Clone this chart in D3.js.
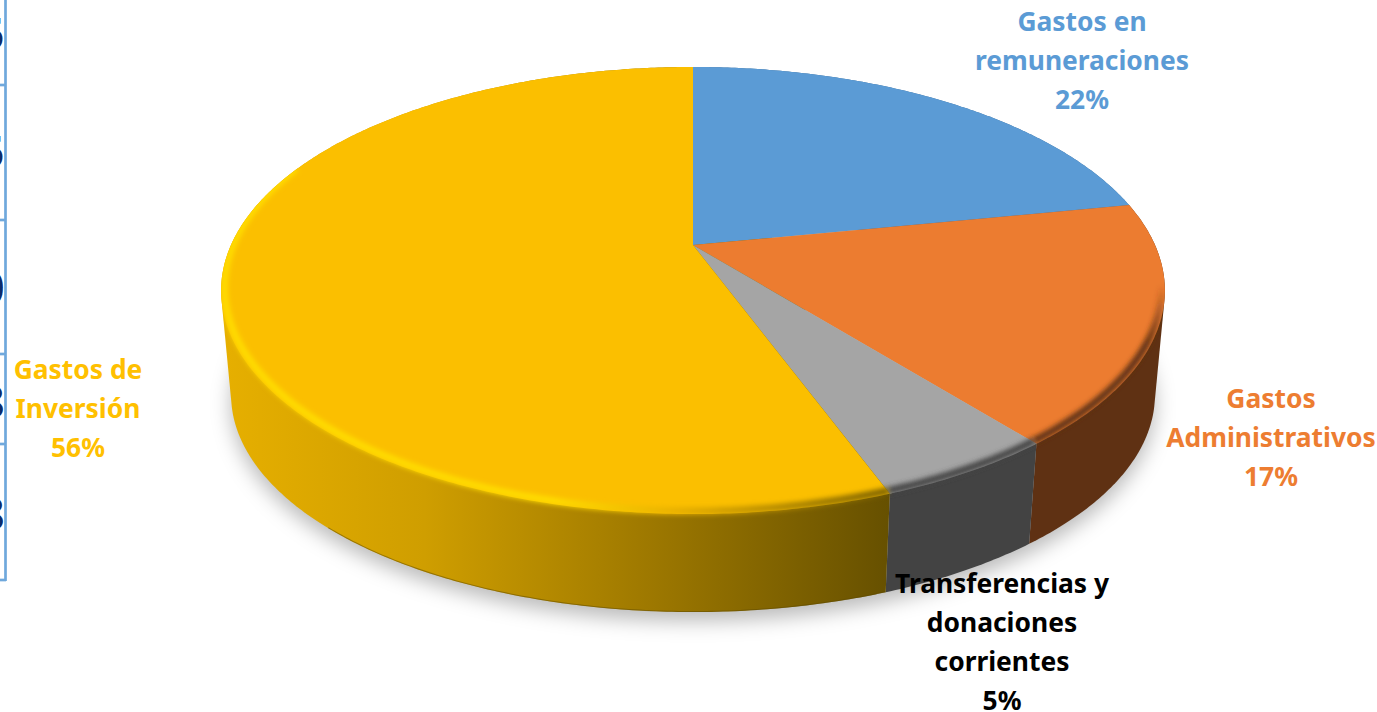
<!DOCTYPE html>
<html>
<head>
<meta charset="utf-8">
<script src="https://cdn.jsdelivr.net/npm/d3@7"></script>
<style>
html,body{margin:0;padding:0;background:#fff;overflow:hidden;}
svg{display:block;}
text{font-family:"Noto Sans",sans-serif;font-weight:700;}
</style>
</head>
<body>
<div id="grafico"></div>
<script>
// datos
var categorias=[["Gastos en","remuneraciones"],["Gastos","Administrativos"],["Transferencias y","donaciones","corrientes"],["Gastos de","Inversión"]];
var valores=[21.9,17.35,5.15,55.6];
var porcentajes=["22%","17%","5%","56%"];
var colores=["#5b9bd5","#ec7c30","#a5a5a5","#fbbf00"];
var coloresLado=["#3a6a96","#5f3113","#434343","url(#ladoAmarillo)"];
var posEtiquetas=[[1082,31],[1271,408],[1002,593],[78,379]];
var colorEtiqueta=["#5b9bd5","#ed7d31","#000000","#ffc000"];
var marcasEje=[85,220,354,444,580];
var digitosCortados=[["5",50],["5",168],["0",304],["8",418],["8",530]];

var ancho=1377, alto=712;

// perspectiva del disco superior
var cx=693, cy=245, k=0.2036, b=-164.4, c=462;
function proyectar(t){
    var v=Math.cos(t), w=1+k*v;
    return [cx+c*Math.sin(t)/w, (cy+b*v)/w];
}
// disco inferior
var escalaX=d3.scaleLinear().domain([cx-472,cx+472]).range([cx-462,cx+462]);
var escalaY=d3.scaleLinear().domain([67,514]).range([178,612]);
function proyectarAbajo(t){
    var p=proyectar(t);
    return [escalaX(p[0]),escalaY(p[1])];
}
function muestras(a0,a1){
    var n=Math.max(2,Math.ceil((a1-a0)/0.01));
    return d3.range(n+1).map(function(i){return a0+(a1-a0)*i/n;});
}
var linea=d3.line();

var arcos=d3.pie().sort(null).startAngle(0).endAngle(2*Math.PI)(valores);
var vuelta=muestras(0,2*Math.PI);
var contorno=d3.polygonHull(vuelta.map(proyectar).concat(vuelta.map(proyectarAbajo)));

var svg=d3.select("#grafico").append("svg")
    .attr("width",ancho)
    .attr("height",alto);
var defs=svg.append("defs");

defs.append("filter").attr("id","sombra")
    .attr("x","-10%").attr("y","-10%").attr("width","120%").attr("height","120%")
    .append("feGaussianBlur").attr("stdDeviation",10);
defs.append("filter").attr("id","suave")
    .attr("filterUnits","userSpaceOnUse")
    .attr("x",0).attr("y",0).attr("width",ancho).attr("height",alto)
    .append("feGaussianBlur").attr("stdDeviation",2.6);

var g1=defs.append("linearGradient").attr("id","ladoAmarillo")
    .attr("gradientUnits","userSpaceOnUse")
    .attr("x1",225).attr("x2",890).attr("y1",0).attr("y2",0);
g1.append("stop").attr("offset",0).attr("stop-color","#e6af00");
g1.append("stop").attr("offset",0.3).attr("stop-color","#cf9e00");
g1.append("stop").attr("offset",0.65).attr("stop-color","#9c7700");
g1.append("stop").attr("offset",1).attr("stop-color","#665000");

var g2=defs.append("linearGradient").attr("id","biselAmarillo")
    .attr("gradientUnits","userSpaceOnUse")
    .attr("x1",220).attr("x2",890).attr("y1",0).attr("y2",0);
g2.append("stop").attr("offset",0).attr("stop-color","#ffdc00");
g2.append("stop").attr("offset",0.5).attr("stop-color","#ffdc00");
g2.append("stop").attr("offset",0.68).attr("stop-color","#e8b000");
g2.append("stop").attr("offset",1).attr("stop-color","#7a6000");

var g3=defs.append("linearGradient").attr("id","biselNaranja")
    .attr("gradientUnits","userSpaceOnUse")
    .attr("x1",0).attr("x2",0).attr("y1",285).attr("y2",345);
g3.append("stop").attr("offset",0).attr("stop-color","#5f3113").attr("stop-opacity",0);
g3.append("stop").attr("offset",1).attr("stop-color","#5f3113").attr("stop-opacity",1);

var biseles=[null,"url(#biselNaranja)","#434343","url(#biselAmarillo)"];

// sombra
svg.append("path")
    .attr("d",linea(vuelta.map(proyectarAbajo))+"Z")
    .attr("transform","translate(0,9)")
    .attr("fill","#000")
    .attr("fill-opacity",0.27)
    .attr("filter","url(#sombra)");

// lados
svg.selectAll("path.lado")
    .data(arcos)
    .enter()
    .append("path")
    .attr("class","lado")
    .attr("d",function(d){
        var t=muestras(d.startAngle,d.endAngle);
        return linea(d3.polygonHull(t.map(proyectar).concat(t.map(proyectarAbajo))))+"Z";
    })
    .attr("fill",function(d,i){return coloresLado[i];});

// cara superior
defs.append("clipPath").attr("id","corteCara")
    .append("path")
    .attr("d",linea(contorno)+"Z");

// borde oscuro abajo del lado amarillo
svg.append("path")
    .attr("clip-path","url(#corteCara)")
    .attr("d",linea(muestras(arcos[3].startAngle,3.9).map(proyectarAbajo)))
    .attr("fill","none")
    .attr("stroke","#5e4a00")
    .attr("stroke-opacity",0.5)
    .attr("stroke-width",2);

svg.selectAll("path.cara")
    .data(arcos)
    .enter()
    .append("path")
    .attr("class","cara")
    .attr("d",function(d){
        return linea([[cx,cy]].concat(muestras(d.startAngle,d.endAngle).map(proyectar)))+"Z";
    })
    .attr("fill",function(d,i){return colores[i];});

// bisel del borde
var capaBisel=svg.append("g").attr("clip-path","url(#corteCara)");
capaBisel.selectAll("path")
    .data(arcos.filter(function(d,i){return biseles[i];}))
    .enter()
    .append("path")
    .attr("d",function(d){
        var fin=d.index===3?Math.PI*1.62:d.endAngle;
        var ini=d.index===1?d.startAngle+0.25:d.startAngle;
        return linea(muestras(ini,fin).map(function(t){
            var p=proyectar(t);
            return [cx+(p[0]-cx)*0.993,p[1]-3];
        }));
    })
    .attr("fill","none")
    .attr("stroke",function(d){return biseles[d.index];})
    .attr("stroke-width",7)
    .attr("filter","url(#suave)");

// eje del cuadro de la izquierda
var marco=svg.append("g").attr("stroke","#6fa8dc").attr("stroke-width",2.7);
marco.append("line").attr("x1",5.5).attr("x2",5.5).attr("y1",0).attr("y2",581);
marco.selectAll("line.marca")
    .data(marcasEje)
    .enter()
    .append("line")
    .attr("class","marca")
    .attr("x1",0).attr("x2",6)
    .attr("y1",function(d){return d;})
    .attr("y2",function(d){return d;});

svg.selectAll("text.cortado")
    .data(digitosCortados)
    .enter()
    .append("text")
    .attr("class","cortado")
    .attr("x",4.5)
    .attr("y",function(d){return d[1];})
    .attr("text-anchor","end")
    .attr("font-size",44)
    .attr("fill","#0b2a6b")
    .text(function(d){return d[0];});

// etiquetas
categorias.forEach(function(lineas,i){
    lineas.concat([porcentajes[i]]).forEach(function(t,j){
        svg.append("text")
            .attr("x",posEtiquetas[i][0])
            .attr("y",posEtiquetas[i][1]+j*39)
            .attr("text-anchor","middle")
            .attr("font-size",26.4)
            .attr("fill",colorEtiqueta[i])
            .text(t);
    });
});
</script>
</body>
</html>
